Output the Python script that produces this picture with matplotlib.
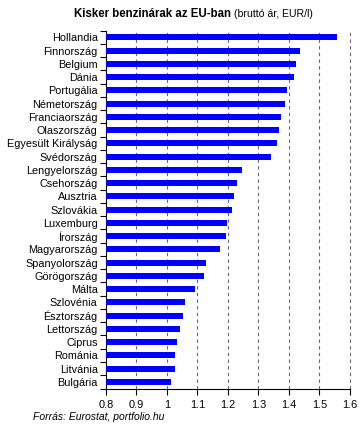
import matplotlib.pyplot as plt
import numpy as np

plt.rcParams['font.family'] = ['Liberation Sans', 'DejaVu Sans']

countries = ['Hollandia', 'Finnország', 'Belgium', 'Dánia', 'Portugália', 'Németország',
             'Franciaország', 'Olaszország', 'Egyesült Királyság', 'Svédország',
             'Lengyelország', 'Csehország', 'Ausztria', 'Szlovákia', 'Luxemburg',
             'Írország', 'Magyarország', 'Spanyolország', 'Görögország', 'Málta',
             'Szlovénia', 'Észtország', 'Lettország', 'Ciprus', 'Románia',
             'Litvánia', 'Bulgária']
prices = [1.557, 1.436, 1.423, 1.416, 1.393, 1.387, 1.373, 1.367, 1.360, 1.341,
          1.245, 1.229, 1.219, 1.213, 1.196, 1.193, 1.173, 1.127, 1.121, 1.091,
          1.058, 1.052, 1.042, 1.032, 1.026, 1.026, 1.012]
xticks = [0.8, 0.9, 1.0, 1.1, 1.2, 1.3, 1.4, 1.5, 1.6]
xlabels = ['0.8', '0.9', '1', '1.1', '1.2', '1.3', '1.4', '1.5', '1.6']

fig = plt.figure(figsize=(3.63, 4.26), dpi=100)
ax = fig.add_axes([0.292, 0.088, 0.672, 0.840])

y = np.arange(len(countries))
ax.barh(y, np.array(prices) - 0.8, left=0.8, height=0.45, color='#0000ff', zorder=3)

ax.set_xlim(0.8, 1.6)
ax.set_ylim(len(countries) - 0.5, -0.5)

# dashed vertical gridlines
for v in xticks[1:]:
    ax.axvline(v, color='#666677', linestyle=(0, (3, 3)), linewidth=0.8, zorder=1, clip_on=False)

ax.set_xticks(xticks)
ax.set_xticklabels(xlabels, fontsize=7.9)
ax.tick_params(axis='x', length=4, width=0.8, direction='out', pad=4)

ax.set_yticks(np.arange(len(countries) + 1) - 0.5)
ax.set_yticklabels([])
ax.set_yticks(y, minor=True)
ax.set_yticklabels(countries, minor=True, fontsize=7.8)
ax.tick_params(axis='y', which='major', length=4, width=0.8, direction='out')
ax.tick_params(axis='y', which='minor', length=0, pad=6)

for s in ['top', 'right']:
    ax.spines[s].set_visible(False)
for s in ['left', 'bottom']:
    ax.spines[s].set_linewidth(0.8)

fig.text(231 / 363, 1 - 14 / 426, 'Kisker benzinárak az EU-ban', fontsize=8.3,
         fontweight='bold', ha='right', va='center')
fig.text(234 / 363, 1 - 14 / 426, '(bruttó ár, EUR/l)', fontsize=7.6,
         ha='left', va='center')
fig.text(33 / 363, 1 - 417 / 426, 'Forrás: Eurostat, portfolio.hu', fontsize=7.5,
         style='italic', ha='left', va='center')

fig.savefig('out.png', dpi=100)
